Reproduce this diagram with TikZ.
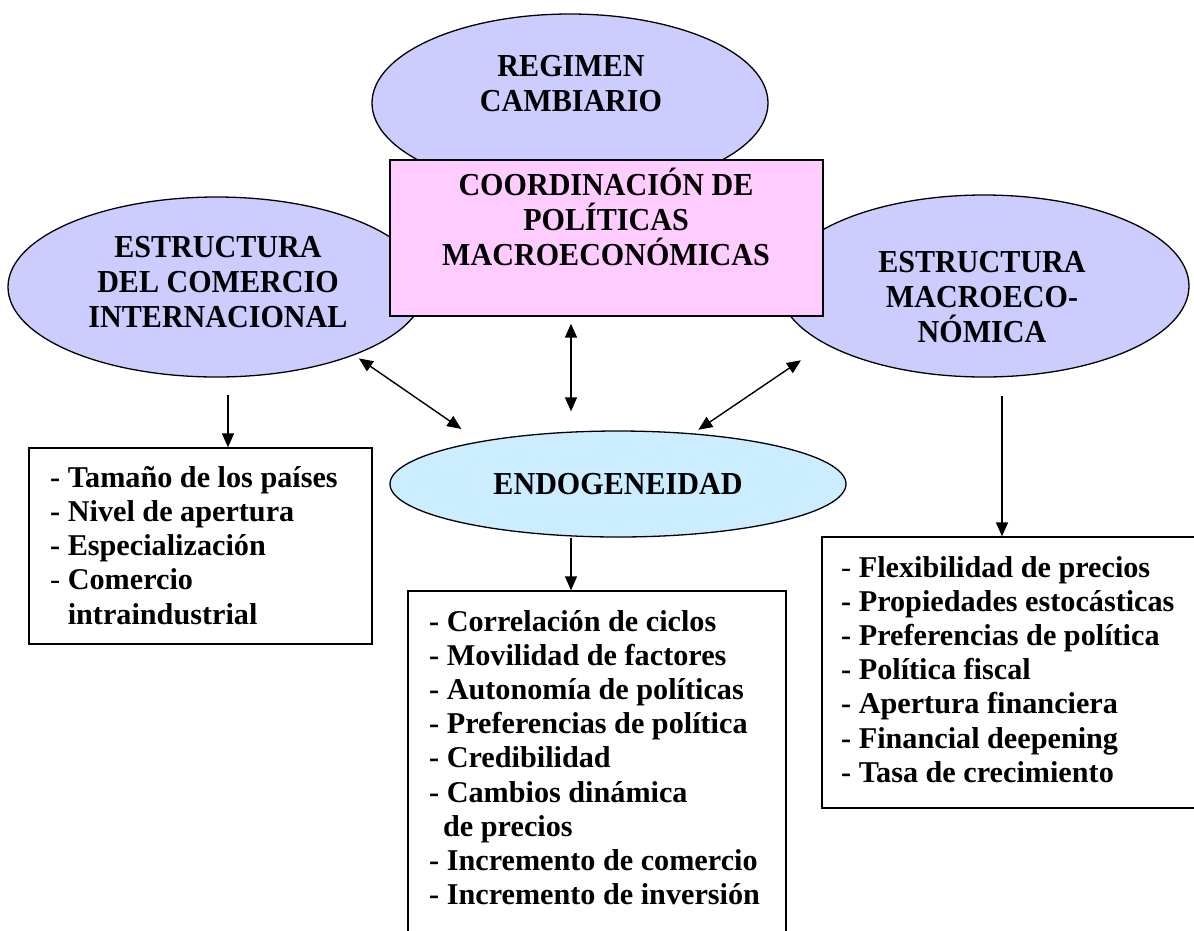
\documentclass[tikz,border=0pt]{standalone}
\usepackage{fontspec}
\setmainfont{Liberation Serif}
\newfontfamily\headfont[FakeStretch=0.94]{Liberation Serif}
\usetikzlibrary{shapes.geometric,arrows.meta}
\definecolor{lavender}{RGB}{204,204,255}
\definecolor{pinkbox}{RGB}{255,204,255}
\definecolor{skyblue}{RGB}{204,236,255}
\begin{document}
\begin{tikzpicture}[x=1pt,y=-1pt,
    bubble/.style={ellipse,draw=black,line width=1.3pt,inner sep=0pt},
    listbox/.style={rectangle,draw=black,line width=1.3pt,inner sep=0pt},
    head/.style={font=\headfont\fontsize{32}{35}\selectfont\bfseries,align=center,inner sep=0pt,anchor=north},
    items/.style={font=\fontsize{30.2}{34.2}\selectfont\bfseries,align=left,inner sep=0pt,anchor=north west},
    arr/.style={line width=1.4pt,-{Triangle[length=14pt,width=12pt]}},
    dblarr/.style={line width=1.4pt,{Triangle[length=14pt,width=12pt]}-{Triangle[length=14pt,width=12pt]}}]
    \clip (0,0) rectangle (1194,930);
    \fill[white] (0,0) rectangle (1194,930);
    % ellipses behind the central box
    \node[bubble,fill=lavender,minimum width=396pt,minimum height=178pt] (regimen) at (570,103) {};
    \node[bubble,fill=lavender,minimum width=417pt,minimum height=180pt] (lefte) at (216.5,287) {};
    \node[bubble,fill=lavender,minimum width=410pt,minimum height=182pt] (righte) at (984,286) {};
    \node[listbox,fill=pinkbox,minimum width=433pt,minimum height=156pt] (coord) at (606.5,238) {};
    \node[head] (regtext) at (571,55) {REGIMEN\\CAMBIARIO};
    \node[head] (lefttext) at (218,236) {ESTRUCTURA\\DEL COMERCIO\\INTERNACIONAL};
    \node[head] (righttext) at (982,251) {ESTRUCTURA\\MACROECO-\\NÓMICA};
    \node[head] (coordtext) at (606,168) {COORDINACIÓN DE\\POLÍTICAS\\MACROECONÓMICAS};
    \node[bubble,fill=skyblue,minimum width=456pt,minimum height=106pt,font=\headfont\fontsize{32}{35}\selectfont\bfseries] (endo) at (618,484) {ENDOGENEIDAD};
    % lists
    \node[listbox,minimum width=343pt,minimum height=196pt] (lbox) at (200.5,546) {};
    \node[listbox,minimum width=378pt,minimum height=360pt] (mbox) at (597,771) {};
    \node[listbox,minimum width=376pt,minimum height=271pt] (rbox) at (1010,672.5) {};
    \node[items] (ltext) at (50,466) {- Tamaño de los países\\- Nivel de apertura\\- Especialización\\{\mdseries -} Comercio\\\phantom{- }intraindustrial};
    \node[items] (mtext) at (429,610) {- Correlación de ciclos\\- Movilidad de factores\\- Autonomía de políticas\\- Preferencias de política\\- Credibilidad\\- Cambios dinámica\\\hspace*{14pt}de precios\\- Incremento de comercio\\- Incremento de inversión};
    \node[items] (rtext) at (841,556) {{\mdseries -} Flexibilidad de precios\\- Propiedades estocásticas\\- Preferencias de política\\- Política fiscal\\- Apertura financiera\\- Financial deepening\\- Tasa de crecimiento};
    % arrows
    \draw[arr] ([shift={(11.5,17)}]lefte.south) -- ([shift={(27.5,0)}]lbox.north);
    \draw[arr] ([shift={(18,18)}]righte.south) -- ([shift={(-8,0)}]rbox.north);
    \draw[arr] ([shift={(-47,0)}]endo.south) -- ([shift={(-26,0)}]mbox.north);
    \draw[dblarr] ([shift={(-35.5,7)}]coord.south) -- ([shift={(-47,-19)}]endo.north);
    \draw[dblarr] ([shift={(0,5)}]lefte.-25.8) -- ([shift={(0,-16)}]endo.166);
    \draw[dblarr] ([shift={(-41,8)}]righte.-155.7) -- ([shift={(0,-4)}]endo.32.2);
\end{tikzpicture}
\end{document}
